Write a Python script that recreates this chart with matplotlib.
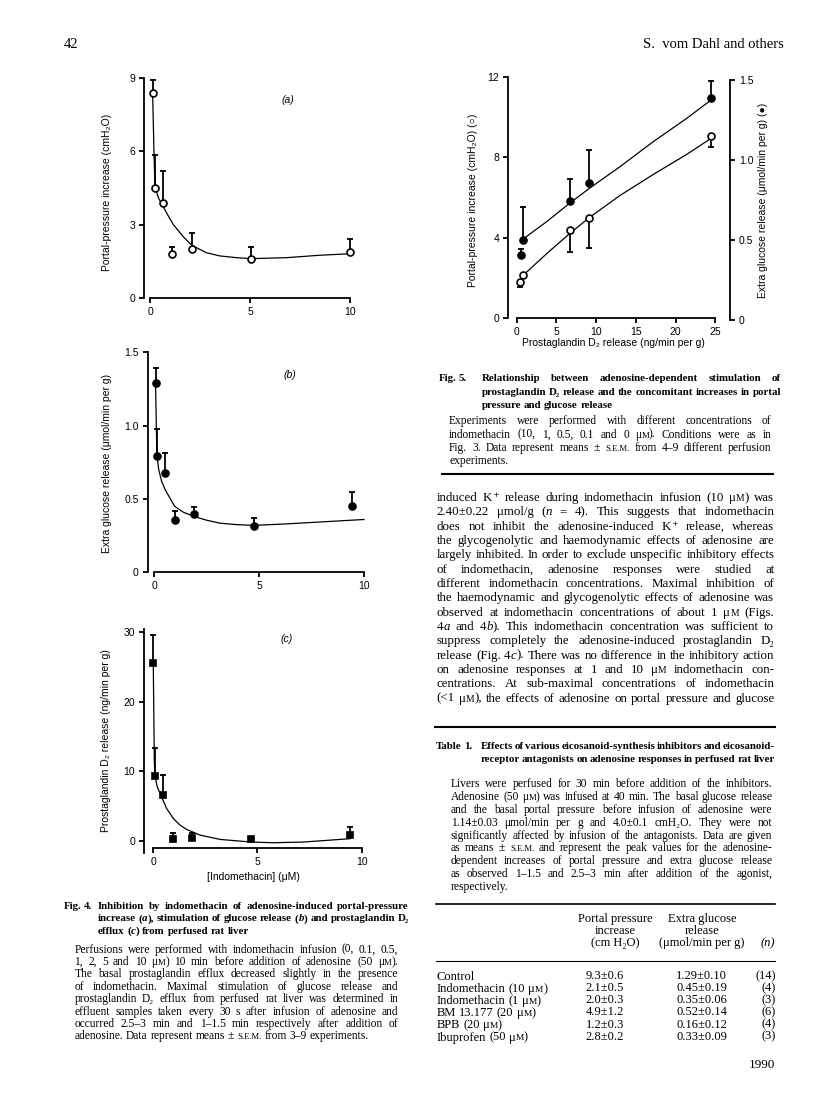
import matplotlib
matplotlib.use('Agg')
import matplotlib.pyplot as plt
from matplotlib.lines import Line2D

W, H = 816, 1093
plt.rcParams['font.family'] = ['Liberation Sans', 'DejaVu Sans']
SERIF = ['Liberation Serif', 'DejaVu Serif']

# ---- Fig. 4 (a) portal-pressure increase, open circles
a_conc = [0.13, 0.25, 0.63, 1.12, 2.1, 5.05, 10.0]
a_pp = [8.4, 4.5, 3.9, 1.8, 2.0, 1.6, 1.9]
a_err = [0.5, 1.35, 1.3, 0.3, 0.65, 0.5, 0.5]
a_fit_x = [0.13, 0.17, 0.2, 0.25, 0.42, 0.67, 0.92, 1.17, 1.67, 2.1, 2.83, 3.5, 4.33, 5.05, 6.83, 8.5, 10.0]
a_fit_y = [8.4, 7.0, 5.9, 4.55, 4.1, 3.72, 3.35, 3.0, 2.5, 2.15, 1.85, 1.72, 1.65, 1.61, 1.65, 1.75, 1.81]

# ---- Fig. 4 (b) extra glucose release, filled circles
b_conc = [0.07, 0.13, 0.52, 0.97, 1.91, 4.75, 9.44]
b_glc = [1.29, 0.79, 0.68, 0.355, 0.395, 0.316, 0.452]
b_err = [0.10, 0.19, 0.135, 0.063, 0.05, 0.052, 0.098]
b_fit_x = [0.06, 0.09, 0.12, 0.21, 0.35, 0.53, 0.75, 0.97, 1.38, 1.91, 2.5, 3.13, 3.93, 4.75, 6.31, 7.9, 10.0]
b_fit_y = [1.28, 1.05, 0.81, 0.70, 0.62, 0.56, 0.505, 0.45, 0.41, 0.38, 0.355, 0.335, 0.325, 0.32, 0.33, 0.343, 0.36]

# ---- Fig. 4 (c) prostaglandin D2 release, filled squares
c_conc = [0.0, 0.08, 0.45, 0.93, 1.87, 4.69, 9.44]
c_pgd = [25.6, 9.3, 6.6, 0.3, 0.35, 0.2, 0.8]
c_err = [3.9, 4.0, 2.9, 0.85, 0.8, 0.0, 1.2]
c_fit_x = [0.0, 0.03, 0.05, 0.08, 0.19, 0.40, 0.64, 0.96, 1.28, 1.60, 2.24, 3.2, 4.69, 5.76, 7.2, 9.44]
c_fit_y = [25.6, 17.5, 11.5, 9.3, 7.75, 6.3, 4.64, 3.2, 2.25, 1.63, 0.81, 0.19, -0.19, -0.29, -0.19, 0.29]

# ---- Fig. 5
f5_pgd_open = [0.42, 0.75, 6.67, 9.15, 24.47]
f5_pp = [1.80, 2.11, 4.38, 4.96, 9.09]
f5_pp_err = [0.29, 0.0, 1.08, 1.48, 0.55]
f5_pgd_fill = [0.5, 0.8, 6.67, 9.15, 24.47]
f5_glc = [0.406, 0.50, 0.744, 0.858, 1.385]
f5_glc_err = [0.036, 0.204, 0.139, 0.206, 0.11]
f5_fit_x = [0.63, 3.78, 6.67, 9.15, 13.0, 17.2, 21.4, 24.47]
f5_fit_pp = [2.05, 3.2, 4.2, 5.0, 6.1, 7.15, 8.15, 8.95]
f5_fit_glc = [0.50, 0.615, 0.73, 0.823, 0.958, 1.115, 1.26, 1.375]

# ---- Table 1
t_rows = ['Control', 'Indomethacin (10 μ|^M|)', 'Indomethacin (1 μ|^M|)',
          'BM 13.177 (20 μ|^M|)', 'BPB (20 μ|^M|)', 'Ibuprofen (50 μ|^M|)']
t_pp = [9.3, 2.1, 2.0, 4.9, 1.2, 2.8]
t_pp_sem = [0.6, 0.5, 0.3, 1.2, 0.3, 0.2]
t_glc = [1.29, 0.45, 0.35, 0.52, 0.16, 0.33]
t_glc_sem = [0.10, 0.19, 0.06, 0.14, 0.12, 0.09]
t_n = [14, 4, 3, 6, 4, 3]

fig = plt.figure(figsize=(W / 100, H / 100), dpi=100)
fig.patch.set_facecolor('white')
renderer = fig.canvas.get_renderer()


def fx(x):
    return x / W


def fy(y):
    return 1 - y / H


def make_axes(left, top, right, bottom):
    ax = fig.add_axes([fx(left), fy(bottom), (right - left) / W, (bottom - top) / H])
    ax.set_facecolor('none')
    ax.spines['top'].set_visible(False)
    ax.spines['right'].set_visible(False)
    for s in ['left', 'bottom']:
        ax.spines[s].set_linewidth(1.3)
    ax.tick_params(direction='out', length=3.5, width=1.3, labelsize=7.5, pad=3)
    return ax


def bars(ax, x, y, err, up=True):
    for xi, yi, e in zip(x, y, err):
        if e <= 0:
            continue
        end = yi + e if up else yi - e
        ax.plot([xi, xi], [yi, end], color='k', lw=1.3, clip_on=False)
        ax.plot([xi], [end], marker='_', ms=5, mew=1.3, color='k', clip_on=False)


def points(ax, x, y, marker, filled):
    ax.plot(x, y, ls='none', marker=marker, ms=5 if marker == 'o' else 4.8,
            mfc='k' if filled else 'white', mec='k', mew=1.2, clip_on=False, zorder=5)


def put_line(line, x0, x1, y, size, weight='normal', justify=True):
    items = []
    for word in line.split(' '):
        parts = []
        for p in word.split('|'):
            if p == '':
                continue
            fs, st, txt = size, 'normal', p
            if p.startswith('^'):
                fs, txt = size * 0.75, p[1:].upper()
            elif p.startswith('~'):
                st, txt = 'italic', p[1:]
            t = fig.text(0, fy(y + 0.3 * size * 100 / 72), txt, fontsize=fs,
                         family=SERIF, weight=weight, style=st, va='baseline')
            parts.append(t)
        items.append(parts)

    def measure():
        return [[t.get_window_extent(renderer).width for t in parts] for parts in items]

    widths = measure()
    total = sum(sum(w) for w in widths)
    min_gap = 0.15 * size * 100 / 72
    if justify and total + (len(items) - 1) * min_gap > x1 - x0:
        k = (x1 - x0 - (len(items) - 1) * min_gap) / total
        for parts in items:
            for t in parts:
                t.set_fontsize(t.get_fontsize() * k)
        widths = measure()
        total = sum(sum(w) for w in widths)
    if justify and len(items) > 1:
        gap = (x1 - x0 - total) / (len(items) - 1)
    else:
        gap = 0.25 * size * 100 / 72
    x = x0
    for parts, ws in zip(items, widths):
        for t, w in zip(parts, ws):
            t.set_x(fx(x))
            x += w
        x += gap


def block(lines, x0, x1, y0, dy, size, weight='normal', last_left=True):
    for i, ln in enumerate(lines):
        put_line(ln, x0, x1, y0 + i * dy, size, weight,
                 justify=not (last_left and i == len(lines) - 1))


def rule(x0, x1, y, lw):
    fig.add_artist(Line2D([fx(x0), fx(x1)], [fy(y), fy(y)], transform=fig.transFigure,
                          color='k', lw=lw))


# ---------------- Fig. 4a
ax = make_axes(144, 78, 350, 298)
ax.set_xlim(-0.3, 10)
ax.set_ylim(0, 9)
ax.spines['left'].set_bounds(0, 9)
ax.spines['bottom'].set_bounds(0, 10)
ax.set_xticks([0, 5, 10])
ax.set_yticks([0, 3, 6, 9])
ax.plot(a_fit_x, a_fit_y, color='k', lw=0.9, clip_on=False)
bars(ax, a_conc, a_pp, a_err)
points(ax, a_conc, a_pp, 'o', False)
fig.text(fx(288), fy(100), '(a)', style='italic', fontsize=7.5, ha='center', va='center')
fig.text(fx(107), fy(192), 'Portal-pressure increase (cmH₂O)', rotation=90,
         fontsize=7.5, ha='center', va='center')

# ---------------- Fig. 4b
ax = make_axes(147.7, 352.3, 364, 572.3)
ax.set_xlim(-0.315, 10)
ax.set_ylim(0, 1.5)
ax.spines['left'].set_bounds(0, 1.5)
ax.spines['bottom'].set_bounds(0, 10)
ax.set_xticks([0, 5, 10])
ax.set_yticks([0, 0.5, 1.0, 1.5])
ax.set_yticklabels(['0', '0.5', '1.0', '1.5'])
ax.plot(b_fit_x, b_fit_y, color='k', lw=0.9, clip_on=False)
bars(ax, b_conc, b_glc, b_err)
points(ax, b_conc, b_glc, 'o', True)
fig.text(fx(290), fy(375), '(b)', style='italic', fontsize=7.5, ha='center', va='center')
fig.text(fx(106.5), fy(463), 'Extra glucose release (μmol/min per g)', rotation=90,
         fontsize=7.5, ha='center', va='center')

# ---------------- Fig. 4c
ax = make_axes(144.3, 632, 361.7, 848.3)
ax.set_xlim(-0.43, 10)
ax.set_ylim(-1.09, 30)
ax.spines['left'].set_bounds(-1.8, 30.4)
ax.spines['bottom'].set_bounds(0, 10)
ax.set_xticks([0, 5, 10])
ax.set_yticks([0, 10, 20, 30])
ax.plot(c_fit_x, c_fit_y, color='k', lw=0.9, clip_on=False)
bars(ax, c_conc, c_pgd, c_err)
points(ax, c_conc, c_pgd, 's', True)
fig.text(fx(287), fy(639), '(c)', style='italic', fontsize=7.5, ha='center', va='center')
fig.text(fx(106), fy(741), 'Prostaglandin D₂ release (ng/min per g)', rotation=90,
         fontsize=7.5, ha='center', va='center')
fig.text(fx(253), fy(877), '[Indomethacin] (μM)', fontsize=7.5, ha='center', va='center')

# ---------------- Fig. 5
ax = make_axes(508.3, 77.3, 730, 320)
ax.set_xlim(-1.06, 26.86)
ax.set_ylim(-0.115, 12)
ax.spines['left'].set_bounds(0, 12)
ax.spines['bottom'].set_position(('data', 0))
ax.spines['bottom'].set_bounds(0, 25)
ax.set_xticks([0, 5, 10, 15, 20, 25])
ax.set_yticks([0, 4, 8, 12])
ax.plot(f5_fit_x, f5_fit_pp, color='k', lw=0.9, clip_on=False)
bars(ax, f5_pgd_open, f5_pp, f5_pp_err, up=False)
points(ax, f5_pgd_open, f5_pp, 'o', False)
ax2 = ax.twinx()
ax2.set_facecolor('none')
ax2.set_ylim(0, 1.517)
for s in ['left', 'top', 'bottom']:
    ax2.spines[s].set_visible(False)
ax2.spines['right'].set_linewidth(1.3)
ax2.spines['right'].set_bounds(0, 1.5)
ax2.set_yticks([0, 0.5, 1.0, 1.5])
ax2.set_yticklabels(['0', '0.5', '1.0', '1.5'])
ax2.tick_params(direction='out', length=3.5, width=1.3, labelsize=7.5, pad=3)
ax2.plot(f5_fit_x, f5_fit_glc, color='k', lw=0.9, clip_on=False)
bars(ax2, f5_pgd_fill, f5_glc, f5_glc_err)
points(ax2, f5_pgd_fill, f5_glc, 'o', True)
fig.text(fx(473), fy(200), 'Portal-pressure increase (cmH₂O) (○)', rotation=90,
         fontsize=7.5, ha='center', va='center')
fig.text(fx(763), fy(200), 'Extra glucose release (μmol/min per g) (●)', rotation=90,
         fontsize=7.5, ha='center', va='center')
fig.text(fx(613), fy(343), 'Prostaglandin D₂ release (ng/min per g)', fontsize=7.5,
         ha='center', va='center')

# ---------------- running heads
fig.text(fx(64), fy(45), '42', family=SERIF, fontsize=10.5, va='center')
fig.text(fx(784), fy(44), 'S.  vom Dahl and others', family=SERIF, fontsize=10.5,
         ha='right', va='center')
fig.text(fx(775), fy(1065), '1990', family=SERIF, fontsize=9.5, ha='right', va='center')

# ---------------- Fig. 4 caption and legend
CAP, LEG, BODY = 7.8, 8.3, 9.3
put_line('Fig. 4.', 63.3, 97, 906, CAP, 'bold', justify=False)
block(['Inhibition by indomethacin of adenosine-induced portal-pressure',
       'increase (|~a|), stimulation of glucose release (|~b|) and prostaglandin D₂',
       'efflux (|~c|) from perfused rat liver'],
      97.7, 409, 906, 12.2, CAP, 'bold')
block(['Perfusions were performed with indomethacin infusion (0, 0.1, 0.5,',
       '1, 2, 5 and 10 μ|^M|) 10 min before addition of adenosine (50 μ|^M|).',
       'The basal prostaglandin efflux decreased slightly in the presence',
       'of indomethacin. Maximal stimulation of glucose release and',
       'prostaglandin D₂ efflux from perfused rat liver was determined in',
       'effluent samples taken every 30 s after infusion of adenosine and',
       'occurred 2.5–3 min and 1–1.5 min respectively after addition of',
       'adenosine. Data represent means ± |^s.e.m.| from 3–9 experiments.'],
      74.3, 398.3, 949.3, 12.35, LEG)

# ---------------- Fig. 5 caption and legend
put_line('Fig. 5.', 438.3, 480, 378, CAP, 'bold', justify=False)
block(['Relationship between adenosine-dependent stimulation of',
       'prostaglandin D₂ release and the concomitant increases in portal',
       'pressure and glucose release'],
      481.7, 781, 378, 13.3, CAP, 'bold')
block(['Experiments were performed with different concentrations of',
       'indomethacin (10, 1, 0.5, 0.1 and 0 μ|^M|). Conditions were as in',
       'Fig. 3. Data represent means ± |^s.e.m.| from 4–9 different perfusion',
       'experiments.'],
      449, 771.7, 421, 13.3, LEG)
rule(441.7, 773.3, 474, 1.5)

# ---------------- body text
block(['induced K|⁺ release during indomethacin infusion (10 μ|^M|) was',
       '2.40±0.22 μmol/g (|~n = 4). This suggests that indomethacin',
       'does not inhibit the adenosine-induced K|⁺ release, whereas',
       'the glycogenolytic and haemodynamic effects of adenosine are',
       'largely inhibited. In order to exclude unspecific inhibitory effects',
       'of indomethacin, adenosine responses were studied at',
       'different indomethacin concentrations. Maximal inhibition of',
       'the haemodynamic and glycogenolytic effects of adenosine was',
       'observed at indomethacin concentrations of about 1 μ|^M (Figs.',
       '4|~a and 4|~b|). This indomethacin concentration was sufficient to',
       'suppress completely the adenosine-induced prostaglandin D₂',
       'release (Fig. 4|~c|). There was no difference in the inhibitory action',
       'on adenosine responses at 1 and 10 μ|^M indomethacin con-',
       'centrations. At sub-maximal concentrations of indomethacin',
       '(<1 μ|^M|), the effects of adenosine on portal pressure and glucose'],
      436.7, 774.3, 497, 14.35, BODY, last_left=False)

# ---------------- Table 1
rule(435, 775, 727, 1.5)
put_line('Table 1.', 436, 480, 746, CAP, 'bold', justify=False)
block(['Effects of various eicosanoid-synthesis inhibitors and eicosanoid-',
       'receptor antagonists on adenosine responses in perfused rat liver'],
      480.7, 775, 746, 12.5, CAP, 'bold', last_left=False)
block(['Livers were perfused for 30 min before addition of the inhibitors.',
       'Adenosine (50 μ|^M|) was infused at 40 min. The basal glucose release',
       'and the basal portal pressure before infusion of adenosine were',
       '1.14±0.03 μmol/min per g and 4.0±0.1 cmH₂O. They were not',
       'significantly affected by infusion of the antagonists. Data are given',
       'as means ± |^s.e.m.| and represent the peak values for the adenosine-',
       'dependent increases of portal pressure and extra glucose release',
       'as observed 1–1.5 and 2.5–3 min after addition of the agonist,',
       'respectively.'],
      450.7, 772.3, 784, 12.8, LEG)
rule(436, 775, 904, 1.2)
TAB = 9.0
for i, (h1, h2) in enumerate([('Portal pressure', 'Extra glucose'), ('increase', 'release'),
                              ('(cm H₂O)', '(μmol/min per g)')]):
    fig.text(fx(615), fy(919 + i * 12.2), h1, family=SERIF, fontsize=TAB, ha='center', va='center')
    fig.text(fx(702), fy(919 + i * 12.2), h2, family=SERIF, fontsize=TAB, ha='center', va='center')
fig.text(fx(768), fy(943.5), '(n)', family=SERIF, style='italic', fontsize=TAB,
         ha='center', va='center')
rule(436, 775, 961, 0.8)
for i in range(len(t_rows)):
    y = 976 + i * 12.15
    put_line(t_rows[i], 436.7, 560, y, TAB, justify=False)
    fig.text(fx(605), fy(y), f'{t_pp[i]:.1f}±{t_pp_sem[i]:.1f}', family=SERIF,
             fontsize=TAB, ha='center', va='center')
    fig.text(fx(701.5), fy(y), f'{t_glc[i]:.2f}±{t_glc_sem[i]:.2f}', family=SERIF,
             fontsize=TAB, ha='center', va='center')
    fig.text(fx(775.5), fy(y), f'({t_n[i]})', family=SERIF, fontsize=TAB,
             ha='right', va='center')

fig.savefig('out.png', dpi=100, facecolor='white')
